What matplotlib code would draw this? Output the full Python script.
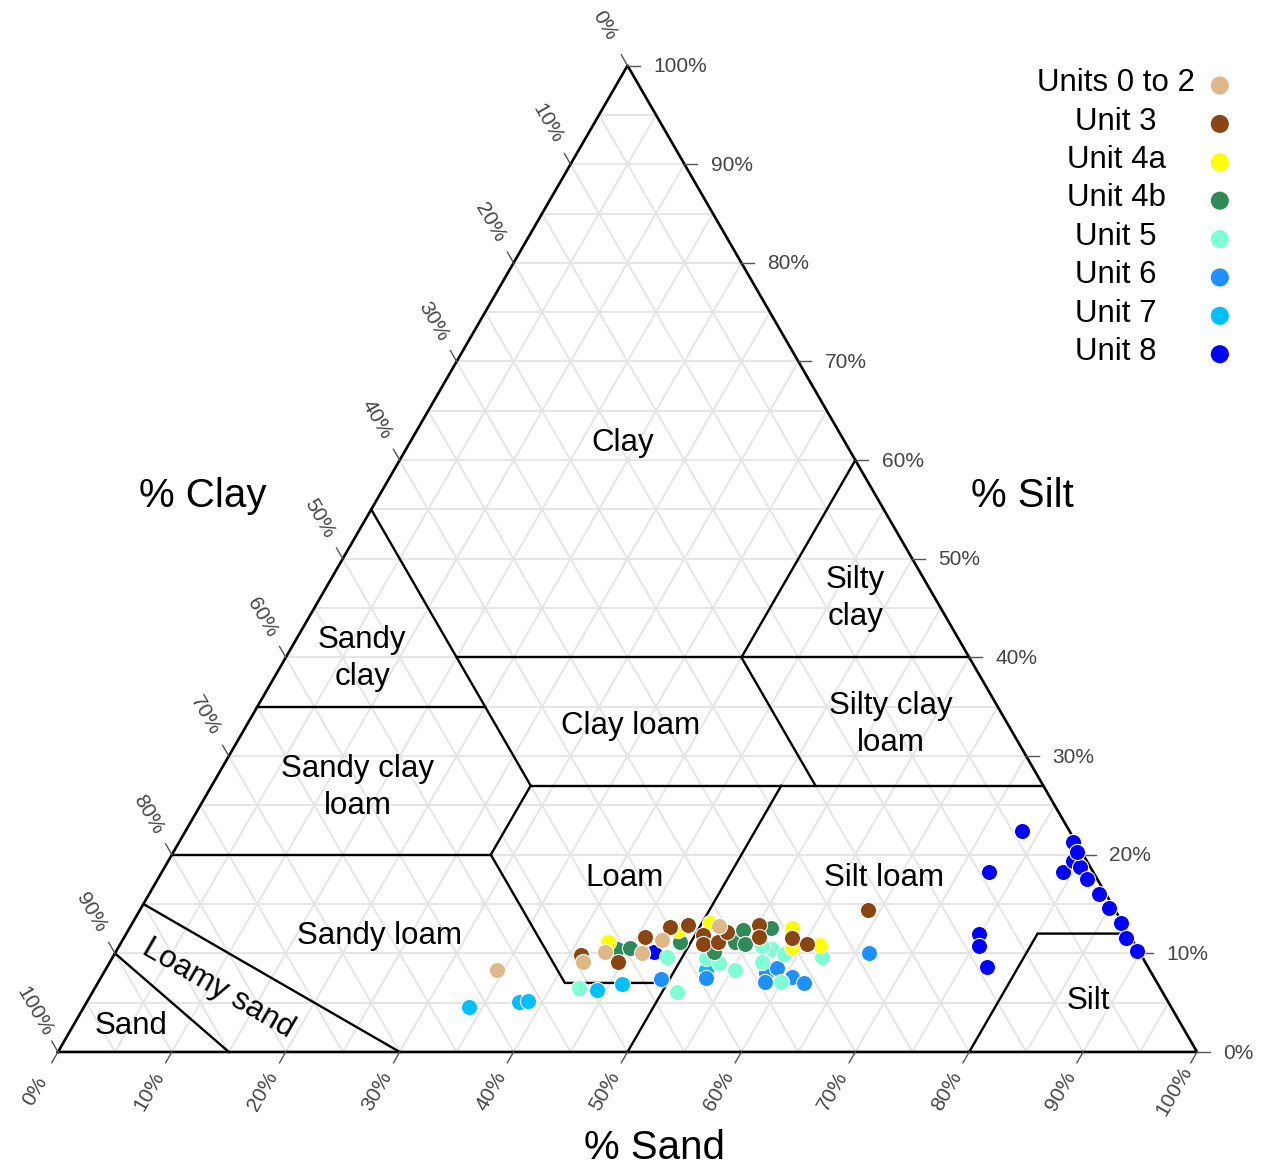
import matplotlib.pyplot as plt
import numpy as np

plt.rcParams['font.family'] = ['Liberation Sans', 'DejaVu Sans']

SQ = np.sqrt(3) / 2.0

# sample compositions, % clay and % silt (sand is the rest)
units = ['Units 0 to 2', 'Unit 3', 'Unit 4a', 'Unit 4b',
         'Unit 5', 'Unit 6', 'Unit 7', 'Unit 8']
unit_colors = ['#DEB887', '#8B4513', '#FFFF00', '#2E8B57',
               '#7FFFD4', '#1E90FF', '#00BFFF', '#0000FF']

clay_u02 = [8.3, 9.1, 10.1, 10.0, 11.4, 12.8]
silt_u02 = [34.4, 41.5, 43.0, 46.3, 47.3, 51.6]
clay_u3 = [9.8, 9.1, 11.7, 12.7, 12.9, 11.9, 10.9, 11.1, 12.2, 12.9, 11.7, 11.6, 10.9, 14.4]
silt_u3 = [41.0, 44.6, 45.7, 47.4, 48.9, 50.7, 51.2, 52.4, 52.6, 55.1, 55.7, 58.6, 60.3, 63.9]
clay_u4a = [11.1, 12.4, 13.1, 12.6, 10.6, 10.8]
silt_u4a = [42.7, 48.2, 50.7, 58.1, 59.1, 61.5]
clay_u4b = [10.4, 10.5, 11.1, 10.1, 11.1, 12.4, 10.9, 12.6]
silt_u4b = [43.9, 45.0, 49.1, 52.5, 53.9, 53.9, 54.9, 56.3]
clay_u5 = [6.5, 9.6, 6.1, 9.5, 9.0, 8.3, 9.1, 10.4, 9.9, 7.1, 9.6, 10.7]
silt_u5 = [42.5, 48.7, 51.3, 52.1, 53.5, 55.3, 57.3, 57.5, 58.8, 59.9, 62.3, 56.5]
clay_u6 = [7.4, 7.5, 8.0, 8.5, 7.1, 7.6, 7.0, 10.0]
silt_u6 = [49.2, 53.1, 58.2, 58.9, 58.5, 60.6, 62.0, 66.2]
clay_u7 = [4.6, 5.1, 5.2, 6.3, 6.9, 8.3]
silt_u7 = [33.8, 37.9, 38.7, 44.2, 46.1, 52.7]
clay_u8 = [10.1, 22.4, 18.2, 18.2, 21.3, 19.4, 18.8, 17.5, 16.0, 14.6, 13.1, 11.6, 10.2,
           12.0, 10.7, 8.6, 20.3]
silt_u8 = [47.3, 73.4, 72.6, 79.1, 78.5, 79.4, 80.3, 81.6, 83.4, 85.0, 86.8, 88.0, 89.6,
           74.9, 75.5, 77.3, 79.3]

clay_all = [clay_u02, clay_u3, clay_u4a, clay_u4b, clay_u5, clay_u6, clay_u7, clay_u8]
silt_all = [silt_u02, silt_u3, silt_u4a, silt_u4b, silt_u5, silt_u6, silt_u7, silt_u8]

# USDA class boundaries as (clay, silt) polylines
borders = [
    [(0, 15), (10, 0)],
    [(0, 30), (15, 0)],
    [(20, 0), (20, 28)],
    [(20, 28), (27, 28)],
    [(20, 28), (7, 41), (7, 50)],
    [(0, 50), (27, 50)],
    [(27, 28), (27, 73)],
    [(0, 80), (12, 80), (12, 88)],
    [(35, 0), (35, 20)],
    [(55, 0), (27, 28)],
    [(40, 15), (40, 60)],
    [(60, 40), (40, 40)],
    [(40, 40), (27, 53)],
]

ticks = list(range(0, 101, 10))


def tern(clay, silt):
    clay = np.asarray(clay, float)
    silt = np.asarray(silt, float)
    return silt + clay / 2.0, clay * SQ


fig = plt.figure(figsize=(12.72, 11.67), dpi=100)
ax = fig.add_axes([0, 0, 1, 1])
ax.set_xlim(-5.09, 106.58)
ax.set_ylim(-10.10, 92.36)
ax.axis('off')

# grid every 5 %
gc = '#e4e4e4'
for v in range(5, 100, 5):
    x, y = tern([v, v], [0, 100 - v])
    ax.plot(x, y, color=gc, lw=1.3, zorder=1)
    x, y = tern([0, 100 - v], [v, v])
    ax.plot(x, y, color=gc, lw=1.3, zorder=1)
    x, y = tern([0, 100 - v], [100 - v, 0])
    ax.plot(x, y, color=gc, lw=1.3, zorder=1)

for b in borders:
    c = [p[0] for p in b]
    s = [p[1] for p in b]
    x, y = tern(c, s)
    ax.plot(x, y, color='black', lw=1.7, zorder=2)

x, y = tern([0, 0, 100, 0], [0, 100, 0, 0])
ax.plot(x, y, color='black', lw=1.9, zorder=3)

# ticks and tick labels
tc = '#555555'
lc = '#444444'
for v in ticks:
    # right side
    x, y = tern(v, 100 - v)
    ax.plot([x, x + 1.1], [y, y], color=tc, lw=1, zorder=3)
    ax.text(x + 2.3, y - 0.1, '%d%%' % v, ha='left', va='center', fontsize=15, color=lc)
    # left side
    x, y = tern(100 - v, 0)
    ax.plot([x, x - 0.5 * 1.1], [y, y + SQ * 1.1], color=tc, lw=1, zorder=3)
    ax.text(x - 0.5 * 4.1, y + SQ * 4.1, '%d%%' % v, ha='center', va='center',
            rotation=-60, fontsize=15, color=lc)
    # bottom
    x, y = tern(0, v)
    ax.plot([x, x - 0.5 * 1.1], [y, y - SQ * 1.1], color=tc, lw=1, zorder=3)
    ax.text(x - 0.5 * 4.0, y - SQ * 4.0, '%d%%' % v, ha='center', va='center',
            rotation=60, fontsize=15, color=lc)

# class names
fs = 22.5
ax.text(49.6, 53.45, 'Clay', ha='center', va='center', fontsize=fs)
ax.text(70.0, 39.85, 'Silty\nclay', ha='center', va='center', fontsize=fs, linespacing=1.3)
ax.text(26.7, 34.55, 'Sandy\nclay', ha='center', va='center', fontsize=fs, linespacing=1.3)
ax.text(50.3, 28.65, 'Clay loam', ha='center', va='center', fontsize=fs)
ax.text(73.1, 28.75, 'Silty clay\nloam', ha='center', va='center', fontsize=fs, linespacing=1.3)
ax.text(26.3, 23.25, 'Sandy clay\nloam', ha='center', va='center', fontsize=fs, linespacing=1.3)
ax.text(49.7, 15.25, 'Loam', ha='center', va='center', fontsize=fs)
ax.text(72.5, 15.25, 'Silt loam', ha='center', va='center', fontsize=fs)
ax.text(28.2, 10.15, 'Sandy loam', ha='center', va='center', fontsize=fs)
ax.text(14.1, 5.6, 'Loamy sand', ha='center', va='center', fontsize=fs, rotation=-30,
        rotation_mode='anchor')
ax.text(6.4, 2.25, 'Sand', ha='center', va='center', fontsize=fs)
ax.text(90.5, 4.45, 'Silt', ha='center', va='center', fontsize=fs)

ax.text(12.7, 48.85, '% Clay', ha='center', va='center', fontsize=29)
ax.text(84.7, 48.85, '% Silt', ha='center', va='center', fontsize=29)
ax.text(52.4, -8.4, '% Sand', ha='center', va='center', fontsize=29)

# samples, last unit first so the older ones sit on top
for i in range(len(units) - 1, -1, -1):
    x, y = tern(clay_all[i], silt_all[i])
    ax.scatter(x, y, s=135, color=unit_colors[i], edgecolors='white', linewidths=0.8,
               zorder=5)

# legend
for i, name in enumerate(units):
    ly = 85.05 - i * 3.37
    ax.text(92.9, ly, name, ha='center', va='center', fontsize=fs)
    ax.scatter([102.0], [ly - 0.2], s=170, color=unit_colors[i], edgecolors='none', zorder=5)

fig.savefig('out.png', dpi=100)
